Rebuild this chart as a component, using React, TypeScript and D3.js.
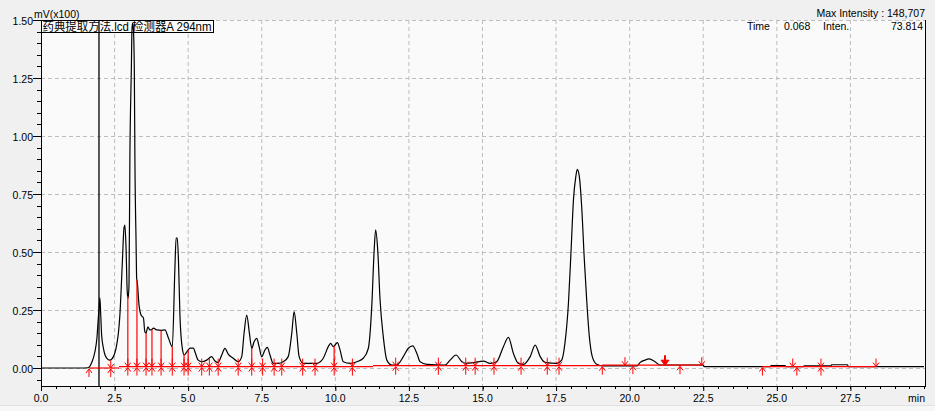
import React from "react";
import * as d3 from "d3";

// ---- data ----
const traceTime = [
  0.0, 1.33, 1.6, 1.73, 1.83, 1.9, 1.95, 1.98, 2.0, 2.03, 2.06, 2.12, 2.23, 2.34, 2.46, 2.57, 2.63, 2.68, 2.76, 2.82,
  2.85, 2.89, 2.93, 2.96, 2.99, 3.02, 3.07, 3.09, 3.11, 3.14, 3.17, 3.19, 3.23, 3.25, 3.27, 3.33, 3.4, 3.48, 3.53, 3.57,
  3.63, 3.7, 3.76, 3.82, 3.93, 4.08, 4.21, 4.33, 4.46, 4.55, 4.59, 4.63, 4.67, 4.72, 4.8, 4.87, 4.95, 5.0, 5.06, 5.18,
  5.23, 5.34, 5.46, 5.63, 5.8, 5.91, 6.02, 6.14, 6.25, 6.36, 6.53, 6.7, 6.82, 6.9, 6.99, 7.08, 7.16, 7.24, 7.33, 7.41,
  7.5, 7.61, 7.69, 7.78, 7.89, 8.06, 8.23, 8.4, 8.52, 8.6, 8.69, 8.77, 8.91, 9.37, 9.59, 9.76, 9.84, 9.93, 10.07, 10.16,
  10.27, 10.5, 10.73, 10.95, 11.12, 11.24, 11.32, 11.37, 11.44, 11.52, 11.63, 11.75, 11.92, 12.09, 12.31, 12.48, 12.63,
  12.77, 12.88, 13.11, 13.73, 13.9, 14.1, 14.3, 14.46, 14.69, 15.03, 15.26, 15.48, 15.71, 15.88, 16.05, 16.22, 16.39,
  16.62, 16.79, 16.96, 17.13, 17.52, 17.69, 17.8, 17.92, 18.01, 18.09, 18.17, 18.22, 18.29, 18.37, 18.46, 18.54, 18.63,
  18.73, 18.88, 19.11, 20.25, 20.35, 20.52, 20.66, 20.86, 21.03, 22.5, 22.53, 24.78, 24.8, 25.28, 25.31, 25.89, 25.93,
  26.84, 26.86, 27.4, 27.43, 30.0,
];
const traceSignal = [
  0.0, 0.0, 0.001, 0.026, 0.069, 0.129, 0.221, 0.27, 0.302, 0.228, 0.142, 0.086, 0.043, 0.034, 0.049, 0.099, 0.151, 0.228, 0.444, 0.603,
  0.616, 0.517, 0.328, 0.3, 0.358, 0.905, 1.293, 1.457, 1.487, 1.457, 1.293, 0.905, 0.543, 0.388, 0.371, 0.272, 0.228, 0.216, 0.155, 0.151,
  0.177, 0.164, 0.166, 0.172, 0.164, 0.162, 0.164, 0.129, 0.091, 0.431, 0.56, 0.56, 0.466, 0.228, 0.086, 0.056, 0.069, 0.078, 0.086, 0.086,
  0.07, 0.034, 0.027, 0.034, 0.049, 0.03, 0.024, 0.056, 0.085, 0.06, 0.042, 0.027, 0.049, 0.151, 0.228, 0.15, 0.085, 0.113, 0.128, 0.092,
  0.049, 0.078, 0.089, 0.056, 0.02, 0.02, 0.027, 0.049, 0.15, 0.243, 0.15, 0.049, 0.02, 0.02, 0.042, 0.092, 0.106, 0.092, 0.109, 0.078,
  0.027, 0.02, 0.027, 0.042, 0.084, 0.272, 0.509, 0.595, 0.509, 0.293, 0.134, 0.034, 0.013, 0.013, 0.049, 0.085, 0.095,
  0.063, 0.027, 0.016, 0.013, 0.034, 0.056, 0.027, 0.02, 0.023, 0.03, 0.02, 0.027, 0.092, 0.132, 0.063, 0.02, 0.016,
  0.049, 0.099, 0.049, 0.024, 0.02, 0.034, 0.106, 0.279, 0.509, 0.724, 0.825, 0.856, 0.825, 0.695, 0.466, 0.293, 0.135,
  0.049, 0.016, 0.009, 0.009, 0.023, 0.034, 0.039, 0.027, 0.013, 0.013, 0.006, 0.006, 0.01, 0.01, 0.006, 0.006, 0.009,
  0.009, 0.014, 0.014, 0.006, 0.006,
];

// integration baseline segments
const baselineStart = [1.63, 2.65, 11.28, 19.07, 24.51];
const baselineEnd = [2.65, 11.28, 19.07, 22.45, 28.37];
const baselineLevel = [0.0, 0.006, 0.01, 0.012, 0.006];

// peak markers
const markerTimes = [
  1.63, 2.37, 2.95, 3.26, 3.57, 3.77, 4.08, 4.46, 4.86, 5.0, 5.46, 5.72, 6.02, 6.7, 7.16, 7.53, 7.92, 8.18, 8.89, 9.31,
  9.96, 10.58, 12.05, 13.5, 14.43, 14.75, 15.39, 16.31, 17.2, 17.6, 19.07, 19.84, 20.11, 21.2, 21.71, 22.45, 24.51,
  25.54, 25.68, 26.5, 28.37,
];
const markerKinds = [
  "up", "star", "star", "star", "star", "star", "star", "star", "star", "star", "star", "star", "star", "star", "star", "star", "star", "star", "star", "star",
  "star", "star", "star", "star", "star", "star", "star", "star", "star", "star", "up", "down", "up", "bold", "up", "down", "up",
  "down", "up", "star", "down",
];

// vertical drop lines
const dropTimes = [2.95, 3.26, 3.57, 3.77, 4.08, 4.46, 4.86, 5.0, 7.16, 9.96];

const xTicks = [0, 2.5, 5, 7.5, 10, 12.5, 15, 17.5, 20, 22.5, 25, 27.5];
const yTicks = [0, 0.25, 0.5, 0.75, 1.0, 1.25, 1.5];

const titleText = "药典提取方法.lcd 检测器A 294nm";
const yUnit = "mV(x100)";
const maxIntensity = "Max Intensity : 148,707";
const cursorTime = 1.97;
const infoTime = "0.068";
const infoInten = "73.814";

const W = 935;
const H = 411;
const L = 41;
const R = 925;
const T = 20;
const B = 386;

const FONT = "'Liberation Sans', Arial, 'Noto Sans CJK SC', sans-serif";

export default function App() {
  const x = d3.scaleLinear().domain([0, 30]).range([L, 924]);
  const y = d3.scaleLinear().domain([0, 1.5]).range([368, T]);

  const pts: [number, number][] = traceTime.map((t, i) => [t, traceSignal[i]]);
  const line = d3
    .line<[number, number]>()
    .x((d) => x(d[0]))
    .y((d) => y(d[1]))
    .curve(d3.curveMonotoneX);

  const bis = d3.bisector((d: number) => d).left;
  const valueAt = (t: number) => {
    const i = Math.max(1, Math.min(traceTime.length - 1, bis(traceTime, t)));
    const t0 = traceTime[i - 1];
    const t1 = traceTime[i];
    const f = (t - t0) / (t1 - t0);
    return traceSignal[i - 1] + f * (traceSignal[i] - traceSignal[i - 1]);
  };
  const baseAt = (t: number) => {
    for (let i = 0; i < baselineStart.length; i++) {
      if (t >= baselineStart[i] - 1e-6 && t <= baselineEnd[i] + 1e-6) return baselineLevel[i];
    }
    return 0.006;
  };

  const minorX = d3.range(0, 30.01, 0.5);
  const minorY = d3.range(-0.05, 1.501, 0.05);

  const red = "#ff0000";

  const marker = (t: number, kind: string, i: number) => {
    const cx = x(t);
    const y0 = y(baseAt(t));
    const els: React.ReactNode[] = [];
    const down = (k: string) => (
      <g key={k}>
        <line x1={cx} x2={cx} y1={y0 - 8} y2={y0} stroke={red} strokeWidth={1} />
        <polyline points={`${cx - 3},${y0 - 4} ${cx},${y0} ${cx + 3},${y0 - 4}`} fill="none" stroke={red} strokeWidth={1} />
      </g>
    );
    const up = (k: string) => (
      <g key={k}>
        <line x1={cx} x2={cx} y1={y0 + 1} y2={y0 + 9} stroke={red} strokeWidth={1} />
        <polyline points={`${cx - 3},${y0 + 5} ${cx},${y0 + 1} ${cx + 3},${y0 + 5}`} fill="none" stroke={red} strokeWidth={1} />
      </g>
    );
    if (kind === "up") els.push(up("u"));
    if (kind === "down") els.push(down("d"));
    if (kind === "star") {
      els.push(down("d"));
      els.push(up("u"));
    }
    if (kind === "bold") {
      els.push(
        <g key="b">
          <line x1={cx} x2={cx} y1={y0 - 10} y2={y0 - 3} stroke={red} strokeWidth={2} />
          <polygon points={`${cx - 4},${y0 - 5} ${cx},${y0} ${cx + 4},${y0 - 5}`} fill={red} stroke={red} strokeWidth={1} />
        </g>
      );
    }
    return <g key={`m${i}`}>{els}</g>;
  };

  return (
    <svg
      width={W}
      height={H}
      style={{ position: "absolute", left: 0, top: 0, display: "block" }}
      fontFamily={FONT}
    >
      <rect x={0} y={0} width={W} height={H} fill="#f0f0f0" />
      <rect x={0} y={405} width={W} height={6} fill="#f7f7f7" />
      <line x1={0} x2={W} y1={405.5} y2={405.5} stroke="#e2e2e2" />
      <rect x={L} y={T} width={R - L} height={B - T} fill="#fafafa" />

      {/* grid */}
      {xTicks.filter((t) => t > 0).map((t) => (
        <line key={`gx${t}`} x1={x(t)} x2={x(t)} y1={T} y2={B} stroke="#bdbdbd" strokeDasharray="4,3" />
      ))}
      {yTicks.map((v) => (
        <line key={`gy${v}`} x1={L} x2={R} y1={y(v) + 0.5} y2={y(v) + 0.5} stroke="#bdbdbd" strokeDasharray="4,3" />
      ))}

      {/* title box */}
      <rect x={L + 0.5} y={T + 0.5} width={172} height={12} fill="#fbfbfb" stroke="#000" strokeWidth={1} />
      <text x={L + 1.5} y={T + 11} fontSize={12} fill="#000" textLength={169} lengthAdjust="spacingAndGlyphs">
        {titleText}
      </text>

      {/* info text */}
      <text x={R} y={17} fontSize={10.5} textAnchor="end" fill="#000">
        {maxIntensity}
      </text>
      <text x={747} y={30} fontSize={10.5} fill="#000">Time</text>
      <text x={784} y={30} fontSize={10.5} fill="#000">{infoTime}</text>
      <text x={823} y={30} fontSize={10.5} fill="#000">Inten.</text>
      <text x={923} y={30} fontSize={10.5} textAnchor="end" fill="#000">{infoInten}</text>

      {/* trace */}
      <path d={line(pts) || ""} fill="none" stroke="#000" strokeWidth={1.2} />

      {/* cursor */}
      <line x1={x(cursorTime)} x2={x(cursorTime)} y1={T} y2={B} stroke="#000" strokeWidth={1.3} />

      {/* integration baseline */}
      {baselineStart.map((s, i) => (
        <line
          key={`bl${i}`}
          x1={x(s)}
          x2={x(baselineEnd[i])}
          y1={y(baselineLevel[i])}
          y2={y(baselineLevel[i])}
          stroke={red}
          strokeWidth={1.2}
        />
      ))}
      {dropTimes.map((t, i) => (
        <line key={`dr${i}`} x1={x(t)} x2={x(t)} y1={y(baseAt(t))} y2={y(valueAt(t))} stroke={red} strokeWidth={1.2} />
      ))}
      {markerTimes.map((t, i) => marker(t, markerKinds[i], i))}

      {/* axes frame */}
      <line x1={L + 0.5} x2={L + 0.5} y1={T} y2={B} stroke="#000" />
      <line x1={L} x2={R} y1={B + 0.5} y2={B + 0.5} stroke="#000" />
      <line x1={R + 0.5} x2={R + 0.5} y1={T} y2={B + 1} stroke="#000" />

      {/* y ticks */}
      {minorY.map((v, i) => (
        <line key={`my${i}`} x1={L - 4} x2={L} y1={Math.round(y(v)) + 0.5} y2={Math.round(y(v)) + 0.5} stroke="#000" />
      ))}
      {yTicks.map((v) => (
        <g key={`ty${v}`}>
          <line x1={L - 8} x2={L} y1={y(v) + 0.5} y2={y(v) + 0.5} stroke="#000" />
          <text x={L - 8} y={y(v) + 4.5} fontSize={10.5} textAnchor="end" fill="#000">
            {v.toFixed(2)}
          </text>
        </g>
      ))}
      <text x={34} y={18} fontSize={10.5} fill="#000">{yUnit}</text>

      {/* x ticks */}
      {minorX.map((t, i) => (
        <line key={`mx${i}`} x1={Math.round(x(t)) + 0.5} x2={Math.round(x(t)) + 0.5} y1={B} y2={B + 3} stroke="#000" />
      ))}
      {xTicks.map((t) => (
        <g key={`tx${t}`}>
          <line x1={x(t) + 0.5} x2={x(t) + 0.5} y1={B} y2={B + 5} stroke="#000" />
          <text x={x(t)} y={402} fontSize={10.5} textAnchor="middle" fill="#000">
            {t.toFixed(1)}
          </text>
        </g>
      ))}
      <text x={R} y={402} fontSize={10.5} textAnchor="end" fill="#000">min</text>
    </svg>
  );
}
